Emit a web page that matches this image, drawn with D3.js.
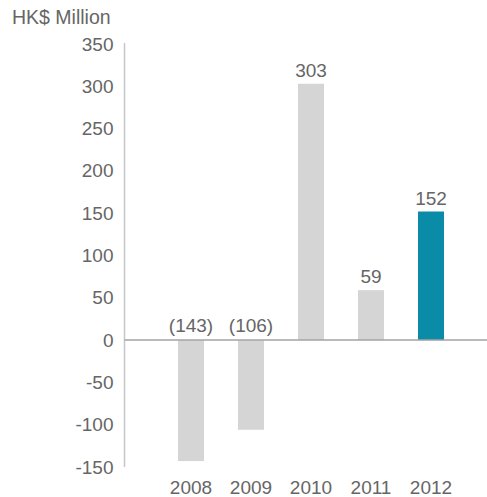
<!DOCTYPE html>
<html>
<head>
<meta charset="utf-8">
<script src="https://cdn.jsdelivr.net/npm/d3@7"></script>
<style>
  html, body { margin: 0; padding: 0; background: #fff; }
  svg text { font-family: "Liberation Sans", Arial, Helvetica, sans-serif; fill: #666; }
</style>
</head>
<body>
<svg id="chart" width="487" height="497"></svg>
<script>
// Annual figures, HK$ million
const years = ["2008", "2009", "2010", "2011", "2012"];
const values = [-143, -106, 303, 59, 152];
const yTicks = [-150, -100, -50, 0, 50, 100, 150, 200, 250, 300, 350];
const unitLabel = "HK$ Million";
const highlightYear = "2012";

const svg = d3.select("#chart");

const y = d3.scaleLinear().domain([-150, 350]).range([467, 44]);
const x = d3.scaleBand().domain(years).range([161, 461])
  .paddingInner(0.5667).paddingOuter(0.5667 / 2);

const axisX = 124.5;

// vertical axis line
svg.append("line")
  .attr("x1", axisX).attr("x2", axisX)
  .attr("y1", y(350) - 1).attr("y2", y(-150))
  .attr("stroke", "#c6c6c6").attr("stroke-width", 1.5);

// tick labels (plain hyphen for negatives)
const yAxis = d3.axisLeft(y).tickValues(yTicks).tickSize(0).tickPadding(11)
  .tickFormat(d => String(d));
const gy = svg.append("g").attr("transform", `translate(${axisX},0)`).call(yAxis);
gy.select(".domain").remove();
gy.selectAll("text")
  .attr("font-size", 19).attr("fill", "#666")
  .style("font-family", "'Liberation Sans', Arial, sans-serif");

// unit label
svg.append("text")
  .attr("x", 12).attr("y", 24)
  .attr("font-size", 19.5)
  .text(unitLabel);

// bars
svg.selectAll("rect.bar")
  .data(years.map((yr, i) => ({ yr, v: values[i] })))
  .join("rect")
  .attr("class", "bar")
  .attr("x", d => x(d.yr))
  .attr("width", x.bandwidth())
  .attr("y", d => y(Math.max(0, d.v)))
  .attr("height", d => Math.abs(y(d.v) - y(0)))
  .attr("fill", d => d.yr === highlightYear ? "#0a8ca8" : "#d5d5d5");

// zero baseline
svg.append("line")
  .attr("x1", axisX).attr("x2", 487)
  .attr("y1", y(0)).attr("y2", y(0))
  .attr("stroke", "#a3a3a3").attr("stroke-width", 1.5);

// value labels: negatives in parentheses above the baseline
svg.selectAll("text.val")
  .data(years.map((yr, i) => ({ yr, v: values[i] })))
  .join("text")
  .attr("class", "val")
  .attr("x", d => x(d.yr) + x.bandwidth() / 2)
  .attr("y", d => d.v >= 0 ? y(d.v) - 7 : y(0) - 8)
  .attr("text-anchor", "middle")
  .attr("font-size", 19)
  .text(d => d.v >= 0 ? d.v : `(${-d.v})`);

// year labels
svg.selectAll("text.yr")
  .data(years)
  .join("text")
  .attr("class", "yr")
  .attr("x", d => x(d) + x.bandwidth() / 2)
  .attr("y", 494)
  .attr("text-anchor", "middle")
  .attr("font-size", 19)
  .text(d => d);
</script>
</body>
</html>
